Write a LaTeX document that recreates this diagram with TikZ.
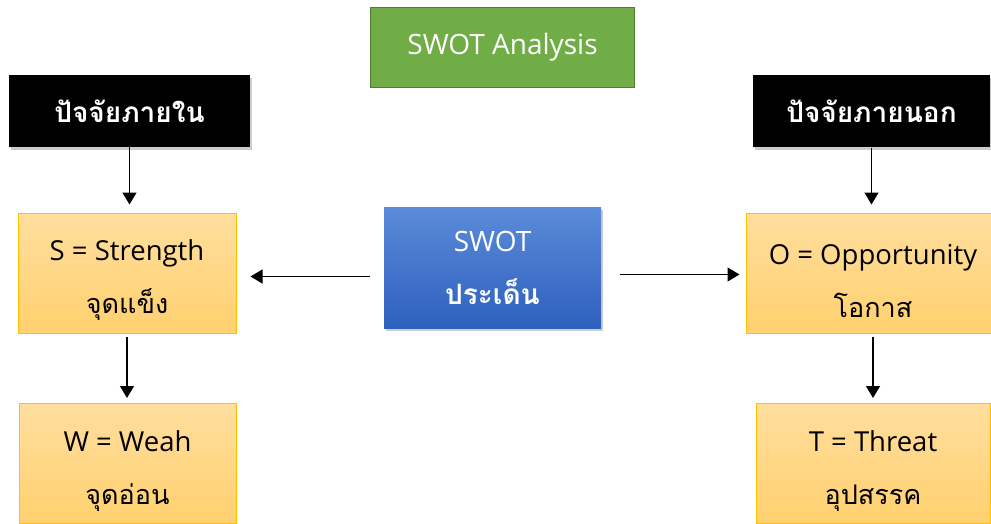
\documentclass[tikz,border=0pt]{standalone}
\usepackage{fontspec}
\setmainfont{Open Sans}
\newfontfamily\thai[Script=Thai]{Loma}
\usetikzlibrary{arrows.meta,shadows}

\definecolor{swgreen}{HTML}{70AD47}
\definecolor{swgreenline}{HTML}{507E32}
\definecolor{swtop}{HTML}{FFDE9E}
\definecolor{swbot}{HTML}{FFD06E}
\definecolor{swline}{HTML}{FFC000}
\definecolor{swbluetop}{HTML}{5B8BD9}
\definecolor{swbluebot}{HTML}{2E60BF}

\newcommand\thaitxt[2][27]{{\thai\fontsize{#1}{53}\selectfont #2}}

\tikzset{
  factor/.style={fill=black, text=white, minimum height=72pt, font=\thai\bfseries\fontsize{28}{30}\selectfont,
    drop shadow={opacity=0.4, shadow xshift=2pt, shadow yshift=-3pt}},
  item/.style={draw=swline, line width=1pt, top color=swtop, bottom color=swbot, minimum height=120pt,
    align=center, font=\fontsize{27.5}{53}\selectfont},
  arr/.style={-{Triangle[width=14pt,length=12pt]}, line width=1.5pt}
}

\begin{document}
\begin{tikzpicture}[x=1pt,y=-1pt]
\useasboundingbox (0,0) rectangle (991,524);
\node[fill=swgreen, draw=swgreenline, line width=1.5pt, text=white, minimum width=264pt, minimum height=80pt,
  font=\fontsize{28}{30}\selectfont] (ana) at (502.5,47.5) {SWOT Analysis};
\node[factor, minimum width=241pt] (inL) at (129.5,111) {ปัจจัยภายใน};
\node[factor, minimum width=237pt] (inR) at (871.5,111.5) {ปัจจัยภายนอก};
\node[top color=swbluetop, bottom color=swbluebot, text=white, minimum width=217pt, minimum height=121pt, align=center,
  font=\fontsize{28}{53}\selectfont, drop shadow={opacity=0.4, shadow xshift=2pt, shadow yshift=-3pt}] (mid) at (492.5,267.5)
  {SWOT\\\thaitxt[28]{\bfseries ประเด็น}};

\node[item, minimum width=218pt] (st) at (127,273) {\rule{0pt}{36pt}S = Strength\\\thaitxt{จุดแข็ง}};
\node[item, minimum width=217pt] (wk) at (127.5,463.5) {\rule{0pt}{36pt}W = Weah\\\thaitxt{จุดอ่อน}};
\node[item, minimum width=254pt] (op) at (873,273) {\rule{0pt}{36pt}O = Opportunity\\\thaitxt{โอกาส}};
\node[item, minimum width=234pt] (th) at (873,463.5) {\rule{0pt}{36pt}T = Threat\\\thaitxt{อุปสรรค}};

\draw[arr, shorten >=8pt] (inL) -- (inL |- st.north);
\draw[arr, shorten >=8pt] (inR) -- (inR |- op.north);
\draw[arr, shorten <=3pt, shorten >=5pt] (st) -- (st |- wk.north);
\draw[arr, shorten <=3pt, shorten >=5pt] (op) -- (op |- th.north);
\draw[arr, shorten <=14pt, shorten >=14pt] ([yshift=-9pt]mid.west) -- ([yshift=-9pt]mid.west -| st.east);
\draw[arr, shorten <=19pt, shorten >=6pt] ([yshift=-7pt]mid.east) -- ([yshift=-7pt]mid.east -| op.west);
\end{tikzpicture}
\end{document}
